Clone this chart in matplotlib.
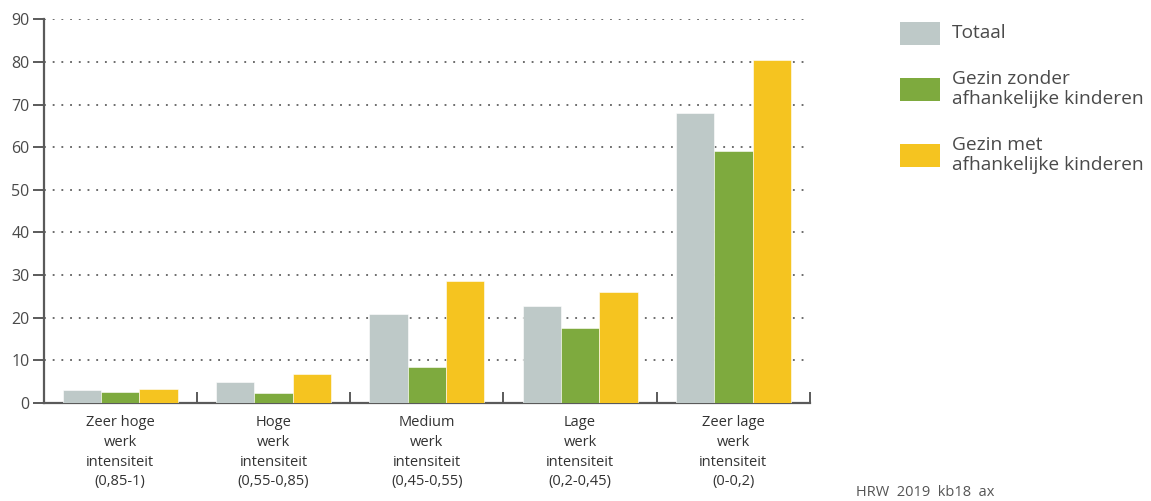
import numpy as np
import matplotlib.pyplot as plt
from matplotlib.patches import Rectangle

plt.rcParams['font.family'] = ['Open Sans', 'DejaVu Sans']

categories = [
    "Zeer hoge\nwerk\nintensiteit\n(0,85-1)",
    "Hoge\nwerk\nintensiteit\n(0,55-0,85)",
    "Medium\nwerk\nintensiteit\n(0,45-0,55)",
    "Lage\nwerk\nintensiteit\n(0,2-0,45)",
    "Zeer lage\nwerk\nintensiteit\n(0-0,2)",
]
totaal = [3.0, 4.9, 20.8, 22.8, 68.1]
zonder_kinderen = [2.6, 2.4, 8.4, 17.5, 59.0]
met_kinderen = [3.3, 6.7, 28.5, 26.0, 80.5]

series = ["Totaal", "Gezin zonder\nafhankelijke kinderen", "Gezin met\nafhankelijke kinderen"]
colors = ["#bec9c8", "#7eaa3e", "#f5c420"]
axis_grey = "#5a5a5a"
text_grey = "#4a4a4a"

fig = plt.figure(figsize=(11.51, 5.01), dpi=100)
ax = fig.add_axes([43.5 / 1151, 1 - 403 / 501, (810 - 43.5) / 1151, (403 - 19.3) / 501])

x = np.arange(len(categories))
w = 0.25
for i, vals in enumerate([totaal, zonder_kinderen, met_kinderen]):
    ax.bar(x + (i - 1) * w, vals, width=w, color=colors[i],
           edgecolor="white", linewidth=0.4, zorder=3)

ax.set_xlim(-0.5, len(categories) - 0.5)
ax.set_ylim(0, 90)
ax.set_yticks(np.arange(0, 91, 10))
ax.yaxis.grid(True, linestyle=(0, (1.2, 4.5)), color="#444444", linewidth=1.1, zorder=0)

for s in ["top", "right"]:
    ax.spines[s].set_visible(False)
for s in ["left", "bottom"]:
    ax.spines[s].set_color(axis_grey)
    ax.spines[s].set_linewidth(1.6)

ax.tick_params(axis="y", direction="out", length=8, width=1.4, color=axis_grey,
               labelsize=11.5, labelcolor=text_grey, pad=2)

# group separators on the category axis
ax.set_xticks(np.arange(0.5, len(categories), 1.0))
ax.set_xticklabels([])
ax.tick_params(axis="x", direction="in", length=8, width=1.4, color=axis_grey)
ax.set_xticks(x, minor=True)
ax.set_xticklabels(categories, minor=True, fontsize=10.5, color="#333333",
                   linespacing=1.42)
ax.tick_params(axis="x", which="minor", length=0, pad=9)

# legend
sw, sh = 40 / 1151, 23 / 501
lx = 900 / 1151
tx = 952 / 1151
for color, label, cy in zip(colors, series, [33, 89, 155]):
    yc = 1 - cy / 501
    fig.add_artist(Rectangle((lx, yc - sh / 2), sw, sh, transform=fig.transFigure,
                             facecolor=color, edgecolor="none"))
    fig.text(tx, yc, label, fontsize=13.8, color=text_grey, va="center", ha="left",
             linespacing=1.2)

fig.text(856 / 1151, 1 - 493 / 501, "HRW  2019  kb18  ax", fontsize=10.5,
         color="#555555", va="center", ha="left")

fig.savefig("out.png", dpi=100)
